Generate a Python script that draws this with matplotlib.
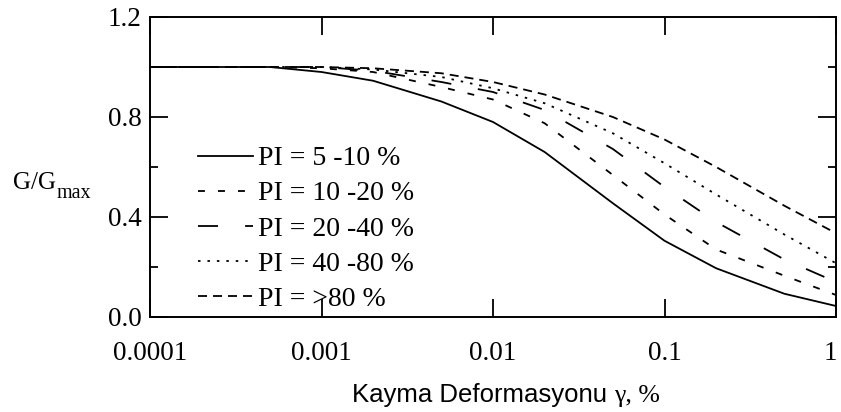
import matplotlib
matplotlib.use("Agg")
import matplotlib.pyplot as plt
from matplotlib import font_manager
from matplotlib.ticker import FixedLocator, NullLocator, FixedFormatter
from matplotlib.transforms import ScaledTranslation

# Shear strain (%) and modulus reduction G/Gmax for each plasticity range
strain = [0.0001, 0.0005, 0.001, 0.002, 0.005, 0.01, 0.02, 0.05, 0.1, 0.2, 0.5, 1.0]
pi_5_10 = [1.0, 1.0, 0.98, 0.945, 0.862, 0.78, 0.66, 0.455, 0.305, 0.195, 0.093, 0.044]
pi_10_20 = [1.0, 1.0, 0.995, 0.98, 0.92, 0.87, 0.775, 0.568, 0.41, 0.27, 0.165, 0.088]
pi_20_40 = [1.0, 1.0, 1.0, 0.985, 0.94, 0.90, 0.828, 0.672, 0.52, 0.38, 0.23, 0.14]
pi_40_80 = [1.0, 1.0, 1.0, 0.99, 0.96, 0.915, 0.855, 0.735, 0.615, 0.49, 0.33, 0.215]
pi_80 = [1.0, 1.0, 1.0, 0.995, 0.975, 0.94, 0.89, 0.80, 0.71, 0.60, 0.445, 0.335]

labels = ["PI = 5 -10 %", "PI = 10 -20 %", "PI = 20 -40 %", "PI = 40 -80 %", "PI = >80 %"]
x_ticks = [0.0001, 0.001, 0.01, 0.1, 1]
x_ticklabels = ["0.0001", "0.001", "0.01", "0.1", "1"]
y_major = [0.0, 0.4, 0.8, 1.2]
y_minor = [0.2, 0.6, 1.0]

installed = {f.name for f in font_manager.fontManager.ttflist}


def first_installed(names):
    for n in names:
        if n in installed:
            return n
    return "DejaVu Sans"


serif = first_installed(["Liberation Serif", "DejaVu Serif"])
sans = first_installed(["Liberation Sans", "DejaVu Sans"])

plt.rcParams["font.family"] = serif
plt.rcParams["lines.scale_dashes"] = False

W, H, DPI = 841, 412, 100
fig = plt.figure(figsize=(W / DPI, H / DPI), dpi=DPI)
ax = fig.add_axes([150 / W, 1 - 317 / H, 686 / W, 300 / H])

series = [pi_5_10, pi_10_20, pi_20_40, pi_40_80, pi_80]
styles = [
    "-",
    (0, (5.0, 9.4)),
    (0, (14.4, 19.5)),
    (0, (1.8, 5.0)),
    (0, (6.5, 4.3)),
]
for vals, ls, lab in zip(series, styles, labels):
    ax.plot(strain, vals, color="black", linestyle=ls, linewidth=1.3, label=lab)

ax.set_xscale("log")
ax.set_xlim(0.0001, 1)
ax.set_ylim(0, 1.2)
ax.xaxis.set_major_locator(FixedLocator(x_ticks))
ax.xaxis.set_major_formatter(FixedFormatter(x_ticklabels))
ax.xaxis.set_minor_locator(NullLocator())
ax.yaxis.set_major_locator(FixedLocator(y_major))
ax.yaxis.set_minor_locator(FixedLocator(y_minor))
ax.set_yticklabels([f"{v:.1f}" for v in y_major])

for s in ax.spines.values():
    s.set_linewidth(1.4)
ax.tick_params(which="both", direction="in", top=True, right=True, width=1.3, colors="black")
ax.tick_params(which="major", length=13)
ax.tick_params(which="minor", length=6)
ax.tick_params(axis="x", which="major", pad=17, labelsize=19.5)
ax.tick_params(axis="y", which="major", pad=6, labelsize=19.5)

# keep the last strain label inside the canvas
last = ax.get_xticklabels()[-1]
last.set_transform(last.get_transform() + ScaledTranslation(-4 / 72, 0, fig.dpi_scale_trans))

leg = ax.legend(
    loc="upper left",
    bbox_to_anchor=(48 / 686, (317 - 146) / 300),
    frameon=False,
    fontsize=20,
    handlelength=1.98,
    handletextpad=0.18,
    borderpad=0,
    borderaxespad=0,
    labelspacing=0.345,
)

# Vertical axis title with subscript
fig.text(13 / W, 1 - 189 / H, "G/G", fontsize=18, ha="left", va="baseline", family=serif)
fig.text(57 / W, 1 - 198 / H, "max", fontsize=14.5, ha="left", va="baseline", family=serif)

# Horizontal axis title: sans text followed by the serif strain symbol,
# the pair centred under the plot area
base_y = 1 - 402 / H
t1 = fig.text(0, base_y, "Kayma Deformasyonu", fontsize=18.5,
              ha="left", va="baseline", family=sans)
t2 = fig.text(0, base_y, "\u03b3, %", fontsize=18.5,
              ha="left", va="baseline", family=serif)
fig.canvas.draw()
w1 = t1.get_window_extent().width
w2 = t2.get_window_extent().width
gap = 7
left = 506 - (w1 + gap + w2) / 2
t1.set_x(left / W)
t2.set_x((left + w1 + gap) / W)

fig.savefig("out.png", dpi=DPI)
